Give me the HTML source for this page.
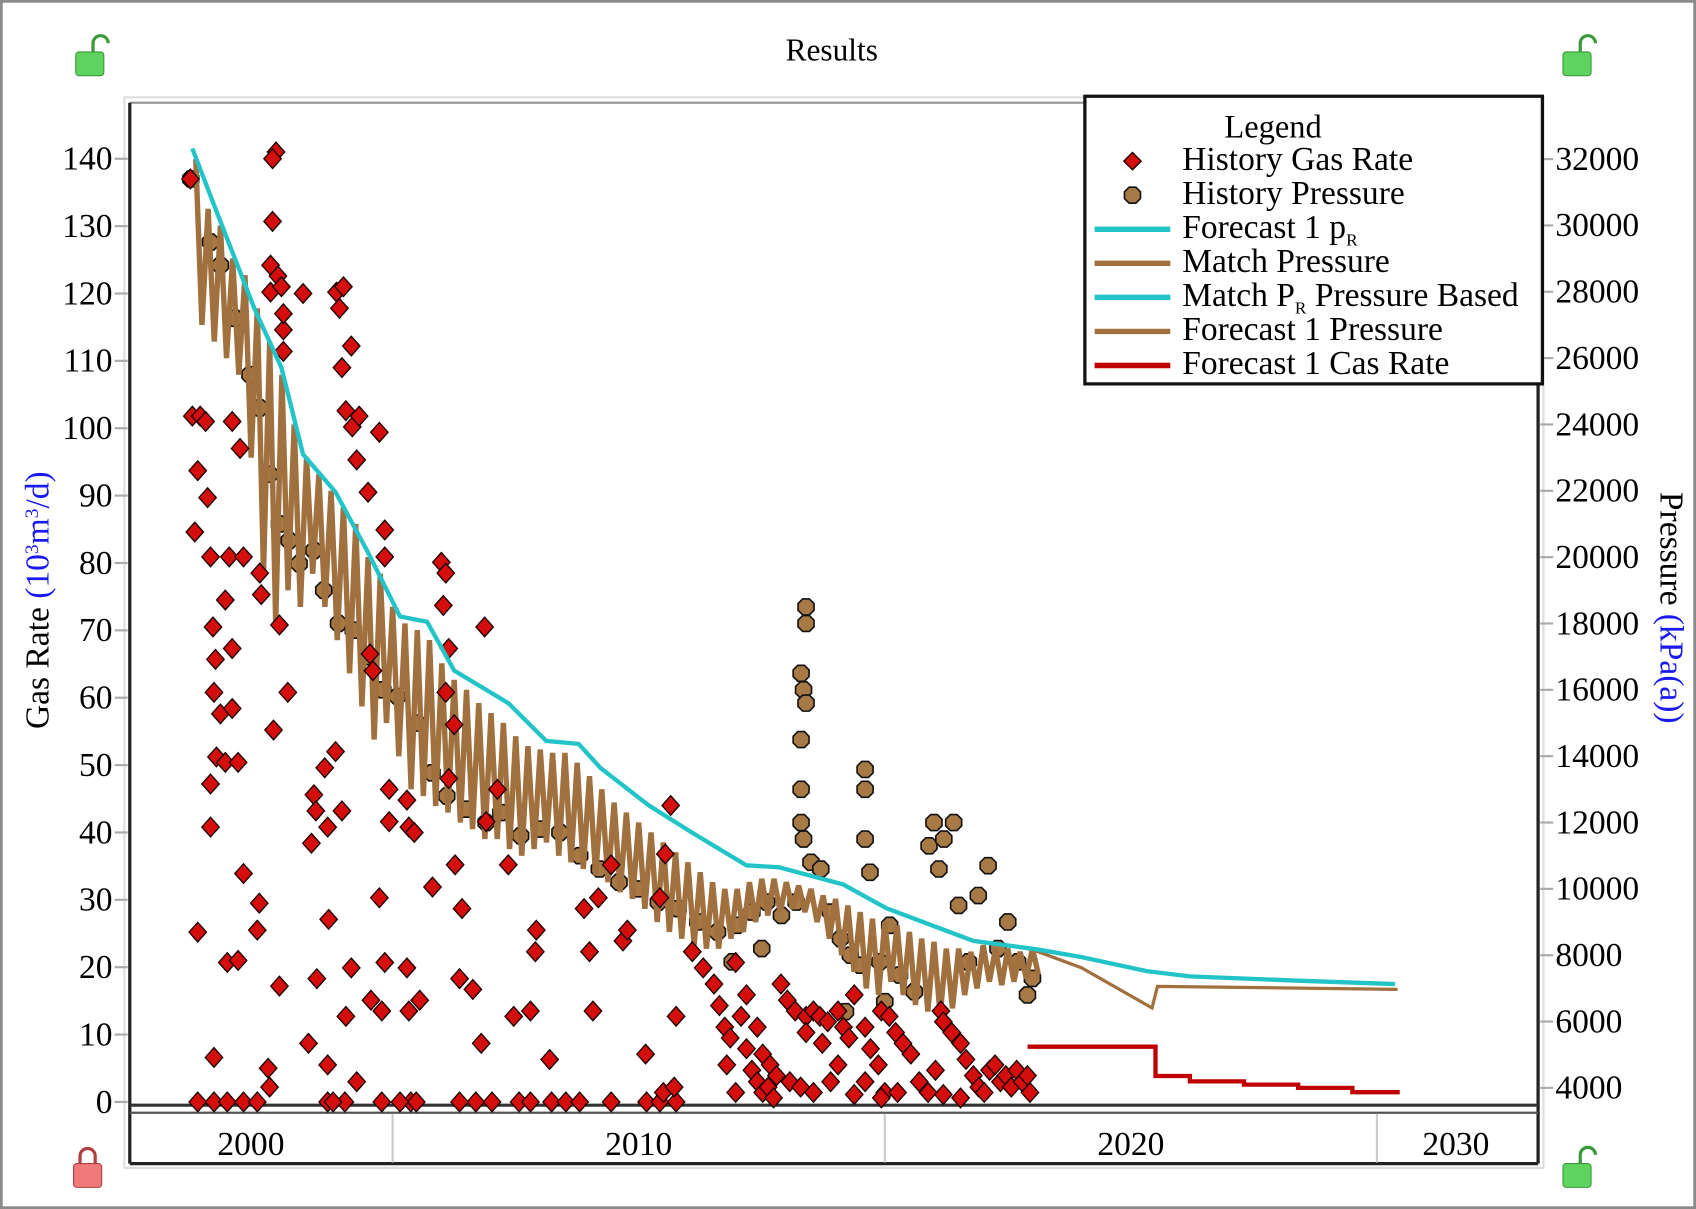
<!DOCTYPE html>
<html><head><meta charset="utf-8"><style>
html,body{margin:0;padding:0;background:#fff;}
svg{display:block;font-family:"Liberation Serif",serif;}
</style></head><body>
<svg id="chart" width="1696" height="1209" viewBox="0 0 1568 1118" preserveAspectRatio="none" xmlns="http://www.w3.org/2000/svg">
<rect x="1" y="1" width="1566" height="1116" fill="#fff" stroke="#8a8a8a" stroke-width="3"/>
<text x="769" y="56" font-size="29" text-anchor="middle">Results</text>
<g><rect x="70" y="48" width="26" height="22" rx="3" fill="#5fd35f" stroke="#3a9a3a"/><path d="M86 48 v-8 a7 7 0 0 1 14 0" fill="none" stroke="#3a9a3a" stroke-width="3"/></g>
<g><rect x="1445" y="48" width="26" height="22" rx="3" fill="#5fd35f" stroke="#3a9a3a"/><path d="M1461 48 v-8 a7 7 0 0 1 14 0" fill="none" stroke="#3a9a3a" stroke-width="3"/></g>
<g><rect x="1445" y="1076" width="26" height="22" rx="3" fill="#5fd35f" stroke="#3a9a3a"/><path d="M1461 1076 v-8 a7 7 0 0 1 14 0" fill="none" stroke="#3a9a3a" stroke-width="3"/></g>
<g><rect x="68" y="1076" width="26" height="22" rx="3" fill="#f07a7a" stroke="#b04040"/><path d="M74 1076 v-7 a7 7 0 0 1 14 0 v7" fill="none" stroke="#b04040" stroke-width="3"/></g>
<rect x="115" y="90" width="1312" height="990" fill="none" stroke="#ddd" stroke-width="2"/>
<line x1="120" y1="95" x2="1422" y2="95" stroke="#999" stroke-width="2"/>
<line x1="120" y1="95" x2="120" y2="1076" stroke="#222" stroke-width="3"/>
<line x1="1422" y1="88" x2="1422" y2="1076" stroke="#222" stroke-width="3"/>
<line x1="120" y1="1022" x2="1422" y2="1022" stroke="#333" stroke-width="3"/>
<line x1="120" y1="1029" x2="1422" y2="1029" stroke="#555" stroke-width="2"/>
<line x1="120" y1="1076" x2="1422" y2="1076" stroke="#222" stroke-width="3"/>
<g id="plot"></g>
<g id="axes"></g>
<text transform="translate(45,555) rotate(-90)" font-size="31" text-anchor="middle">Gas Rate <tspan fill="#1a1aee">(10<tspan font-size="18" dy="-10">3</tspan><tspan dy="10">m</tspan><tspan font-size="18" dy="-10">3</tspan><tspan dy="10">/d)</tspan></tspan></text>
<text transform="translate(1535,562) rotate(90)" font-size="31" text-anchor="middle">Pressure <tspan fill="#1a1aee">(kPa(a))</tspan></text>
<g>
<rect x="1003" y="89" width="423" height="266" fill="#fff" stroke="#111" stroke-width="3"/>
<text x="1177" y="127" font-size="30" text-anchor="middle">Legend</text>
<g id="legend-items"></g>
</g>
</svg>
<script>
const gasYears=[2000.89,2000.93,2001.09,2001.2,2001.04,2001.24,2000.98,2001.3,2001.35,2001.4,2001.37,2001.5,2001.42,2001.6,2001.3,2001.3,2001.68,2001.6,2001.74,2001.74,2001.86,2001.9,2001.74,2001.97,2001.97,2001.64,2001.86,2001.37,2001.04,2001.04,2001.37,2001.64,2001.97,2002.25,2002.3,2002.33,2002.25,2002.29,2002.47,2002.5,2002.58,2002.63,2002.56,2002.56,2002.52,2002.67,2002.52,2002.74,2002.78,2002.78,2002.78,2002.7,2002.87,2002.7,2003.18,2003.29,2003.4,2003.35,2003.44,2003.46,2003.68,2003.68,2003.62,2003.68,2003.7,2003.86,2003.92,2003.97,2004.0,2004.16,2004.05,2004.18,2004.32,2004.27,2004.5,2004.73,2003.84,2003.97,2004.05,2004.16,2004.27,2004.56,2004.73,2004.78,2004.84,2004.54,2004.6,2004.84,2004.84,2004.93,2004.93,2005.29,2005.33,2005.44,2005.29,2005.33,2005.55,2005.37,2005.48,2005.15,2004.78,2004.03,2003.79,2005.81,2005.99,2006.08,2006.03,2006.14,2006.08,2006.25,2006.14,2006.27,2006.41,2006.36,2006.63,2006.87,2006.8,2006.69,2006.36,2007.02,2006.9,2007.13,2007.35,2007.46,2007.8,2007.9,2007.92,2008.19,2007.57,2007.8,2008.23,2008.52,2008.8,2009.07,2008.89,2009.0,2009.18,2009.44,2009.68,2009.77,2010.14,2010.16,2010.43,2010.76,2009.44,2010.43,2010.54,2010.65,2010.76,2010.5,2010.72,2011.09,2011.31,2011.53,2011.64,2011.75,2011.86,2011.97,2012.08,2012.19,2012.3,2012.41,2012.52,2012.63,2012.74,2011.97,2011.79,2012.19,2012.41,2012.52,2012.67,2012.8,2012.89,2013.02,2013.18,2013.4,2013.55,2013.68,2013.84,2014.05,2014.16,2014.27,2013.07,2013.29,2013.55,2013.9,2014.05,2013.4,2013.73,2014.38,2014.6,2014.71,2014.87,2015.0,2014.38,2014.6,2014.93,2015.09,2015.22,2015.37,2015.53,2015.7,2015.88,2016.03,2016.14,2016.19,2016.36,2016.54,2016.65,2016.8,2016.91,2017.02,2017.13,2017.24,2017.35,2017.46,2017.57,2017.68,2017.79,2017.9,2017.95,2016.54,2016.19,2015.26,2014.93];
const gasRates=[137,101.8,101.8,101,93.7,89.7,84.6,80.9,70.5,65.7,60.8,57.6,51.2,50.4,47.2,40.8,80.9,74.5,67.3,58.4,50.4,97,101,80.9,33.9,20.7,21,6.6,25.2,0,0,0,0,0,78.5,75.3,25.5,29.5,5,2.2,55.2,141,140,130.7,124.2,122.6,120.2,121,114.6,117,111.4,70.8,60.8,17.2,120,8.7,45.6,38.4,43.2,18.3,5.5,0,49.6,40.8,27.1,120.2,117.8,109,121,112.2,102.6,100.2,101.8,95.3,90.5,99.4,52,43.2,12.7,19.9,3,15.1,30.3,13.5,20.7,66.5,64,84.9,80.9,46.4,41.6,44.8,40.8,40,19.9,13.5,15.1,0,0,0,0,0,0,31.9,80.1,78.5,73.7,67.3,60.8,56,48,35.2,28.7,18.3,16.7,70.5,8.7,0,0,0,41.6,46.4,35.2,12.7,13.5,22.3,25.5,6.3,0,0,0,0,0,13.5,28.7,22.3,30.3,35.2,23.9,25.5,7.1,0,0,0,0,30.3,36.8,44,12.7,1.4,2.2,22.3,19.9,17.5,14.3,11.1,9.5,20.7,12.7,7.9,4.7,3,1.4,2.2,0.6,1.4,5.5,15.9,11.1,7.1,5.5,3.9,17.5,15.1,13.5,12.7,13.5,12.7,11.9,13.5,11.1,9.5,3,2.2,1.4,3,5.5,10.3,8.7,15.9,11.1,7.9,5.5,1.4,1.1,3,13.5,12.7,10.3,8.7,7.1,3,1.4,4.7,13.5,11.9,10.3,8.7,6.3,3.9,2.2,1.4,4.7,5.5,3,3.9,2.2,4.7,3,3.9,1.4,0.6,1.1,1.4,0.6];
const presYears=[2000.9,2001.3,2001.5,2001.8,2002.1,2002.3,2002.5,2002.7,2002.9,2003.1,2003.4,2003.6,2003.9,2004.2,2004.5,2004.8,2005.1,2005.5,2005.8,2006.1,2006.5,2006.9,2007.2,2007.6,2008.0,2008.4,2008.8,2009.2,2009.6,2010.0,2010.4,2010.8,2011.2,2011.6,2012.0,2012.3,2012.6,2012.9,2013.2,2013.3,2013.3,2013.35,2013.3,2013.3,2013.35,2013.4,2013.4,2013.4,2013.5,2013.7,2013.9,2014.1,2014.3,2014.5,2014.6,2014.6,2014.6,2014.7,2014.9,2015.1,2015.3,2015.6,2015.9,2016.0,2016.1,2016.2,2016.4,2016.5,2016.7,2016.9,2017.1,2017.3,2017.5,2017.7,2017.9,2018.0,2015.0,2014.2,2012.5,2011.9];
const presValues=[31400,29500,28800,27200,25500,24500,22500,21000,20500,19800,20200,19000,18000,17800,17000,16000,15800,15000,13500,12800,12400,12000,12300,11600,11800,11700,11000,10600,10200,10000,9600,9400,9000,8700,8900,9300,9600,9200,9600,13000,14500,16000,16500,12000,11500,18000,18500,15600,10800,10600,9300,8500,8000,7700,13600,13000,11500,10500,7800,8900,7400,6900,11300,12000,10600,11500,12000,9500,7800,9800,10700,8200,9000,7800,6800,7300,6600,6300,8200,7800];
const matchYears=[2001.0,2001.25,2001.5,2001.75,2002.0,2002.25,2002.5,2002.75,2003.0,2003.25,2003.5,2003.75,2004.0,2004.25,2004.5,2004.75,2005.0,2005.25,2005.5,2005.75,2006.0,2006.25,2006.5,2006.75,2007.0,2007.25,2007.5,2007.75,2008.0,2008.25,2008.5,2008.75,2009.0,2009.25,2009.5,2009.75,2010.0,2010.25,2010.5,2010.75,2011.0,2011.25,2011.5,2011.75,2012.0,2012.25,2012.5,2012.75,2013.0,2013.25,2013.5,2013.75,2014.0,2014.25,2014.5,2014.75,2015.0,2015.25,2015.5,2015.75,2016.0,2016.25,2016.5,2016.75,2017.0,2017.25,2017.5,2017.75,2018.0];
const matchTop=[32000,30500,30000,29000,28500,27500,26500,25500,24000,23000,22500,22000,21500,21000,20000,19500,18500,18000,17800,17500,16800,16300,16000,15600,15300,15000,14600,14300,14200,14100,14100,13800,13400,13000,12600,12300,12000,11700,11400,11100,10800,10500,10200,10000,10000,10200,10300,10300,10200,10100,10000,9800,9700,9500,9300,9100,9000,8900,8700,8500,8400,8200,8200,8100,8300,8200,8200,8100,8200];
const matchBottom=[27000,26500,26000,25500,23000,19500,18000,19000,18500,19500,18500,17500,16500,15500,14500,15000,14000,13000,12800,12500,12300,12000,11800,11500,11500,11200,11000,11200,11400,11000,10800,10600,10400,10200,9900,9700,9400,9000,8700,8500,8300,8200,8200,8500,8700,9000,9200,9300,9400,9300,9000,8500,8000,7500,7000,6800,7200,6800,6500,6300,6200,6400,6800,7000,7200,7100,7200,7300,7400];
const fcPresYears=[2018.0,2019.0,2020.43,2020.54,2025.42];
const fcPres=[8170,7620,6410,7060,6970];
const prYears=[2000.93,2001.42,2002.19,2002.74,2003.18,2003.84,2004.49,2005.15,2005.7,2006.25,2007.35,2008.12,2008.78,2009.22,2010.21,2011.09,2012.19,2012.85,2014.16,2015.04,2015.92,2016.8,2018.12,2019.0,2020.32,2021.2,2023.4,2025.37];
const prPres=[32320,30430,27500,25710,23100,21960,20170,18210,18050,16580,15600,14460,14370,13650,12510,11690,10710,10650,10130,9410,8920,8430,8170,7940,7520,7360,7230,7130];
const fcGasYears=[2017.9,2020.43,2020.5,2021.2,2022.3,2023.4,2024.5,2025.42];
const fcGasRates=[8.2,8.2,3.85,3.05,2.57,2.09,1.44,1.12];
const leftTicks=[0,10,20,30,40,50,60,70,80,90,100,110,120,130,140];
const rightTicks=[4000,6000,8000,10000,12000,14000,16000,18000,20000,22000,24000,26000,28000,30000,32000];
const decadeLabels=["2000","2010","2020","2030"];
const decadeCenters=[2000,2010,2020,2030];
const decadeDividers=[2005,2015,2025];

const NS="http://www.w3.org/2000/svg";
const xs=y=>363+(y-2005)*45.5;
const yl=r=>1019-r*6.23;
const yr=p=>1006-(p-4000)/32.6;
const plot=document.getElementById('plot'), axes=document.getElementById('axes');
function mk(tag,attrs,parent){const e=document.createElementNS(NS,tag);for(const k in attrs)e.setAttribute(k,attrs[k]);parent.appendChild(e);return e;}

leftTicks.forEach(v=>{
  const g=mk('g',{},axes);
  
  
  mk('line',{x1:106,x2:118,y1:yl(v),y2:yl(v),stroke:'#aaa','stroke-width':2},g);
  const t=mk('text',{x:104,y:yl(v)+10,'font-size':31,'text-anchor':'end'},g);t.textContent=v;
});
rightTicks.forEach(v=>{
  const g=mk('g',{},axes);
  
  
  mk('line',{x1:1424,x2:1436,y1:yr(v),y2:yr(v),stroke:'#aaa','stroke-width':2},g);
  const t=mk('text',{x:1438,y:yr(v)+10,'font-size':31},g);t.textContent=v;
});
decadeDividers.forEach(d=>{
  const l=mk('line',{x1:xs(d),x2:xs(d),y1:1030,y2:1075,stroke:'#ccc','stroke-width':2},axes);
  
  
});
decadeLabels.forEach((s,i)=>{
  let cx=xs(decadeCenters[i]); if(i===0)cx=232; if(i===3)cx=1346;
  const t=mk('text',{x:cx,y:1068,'font-size':31,'text-anchor':'middle'},axes);
  
  
  t.textContent=s;
});

function pts(xsArr,ysArr,fy){return xsArr.map((y,i)=>xs(y).toFixed(1)+','+fy(ysArr[i]).toFixed(1)).join(' ');}
function oct(cx,cy,r){let a=[];for(let i=0;i<8;i++){const t=Math.PI/8+i*Math.PI/4;a.push((cx+r*Math.cos(t)).toFixed(1)+','+(cy+r*Math.sin(t)).toFixed(1));}return a.join(' ');}

const gp=mk('g',{},plot);


presYears.forEach((y,i)=>{
  const p=mk('polygon',{points:oct(xs(y),yr(presValues[i]),8),fill:'#a77a45',stroke:'#111','stroke-width':1.5},gp);
  
  
});
let zig=[];
matchYears.forEach((y,i)=>{
  zig.push(xs(y).toFixed(1)+','+yr(matchTop[i]).toFixed(1));
  zig.push(xs(y+0.125).toFixed(1)+','+yr(matchBottom[i]).toFixed(1));
});
const mp=mk('polyline',{points:zig.join(' '),fill:'none',stroke:'#a0703e','stroke-width':5,'stroke-linejoin':'miter'},plot);


const fp=mk('polyline',{points:pts(fcPresYears,fcPres,yr),fill:'none',stroke:'#a0703e','stroke-width':3},plot);


const gg=mk('g',{},plot);


gasYears.forEach((y,i)=>{
  const cx=xs(y),cy=yl(gasRates[i]);
  const d=mk('polygon',{points:`${cx},${cy-9} ${cx+8},${cy} ${cx},${cy+9} ${cx-8},${cy}`,fill:'#d40d0d',stroke:'#220000','stroke-width':1.3},gg);
  
  
});
const cy=mk('polyline',{points:pts(prYears,prPres,yr),fill:'none',stroke:'#22c4c8','stroke-width':4},plot);


const rg=mk('polyline',{points:fcGasYears.map((y,i)=>{const a=xs(y).toFixed(1)+','+yl(fcGasRates[i]).toFixed(1);return i?xs(y).toFixed(1)+','+yl(fcGasRates[i-1]).toFixed(1)+' '+a:a;}).join(' '),fill:'none',stroke:'#c00000','stroke-width':4},plot);



const li=document.getElementById('legend-items');
const legendLabels=["History Gas Rate","History Pressure","Forecast 1 p_R","Match Pressure","Match P_R Pressure Based","Forecast 1 Pressure","Forecast 1 Cas Rate"];
const legendKinds=["diamond","oct","line","line","line","line","line"];
const legendColors=["#d40d0d","#a77a45","#22c4c8","#a0703e","#22c4c8","#a0703e","#c00000"];
legendLabels.forEach((s,i)=>{
  const y=157+i*31.5;
  const g=mk('g',{},li);
  
  
  if(legendKinds[i]==='diamond') mk('polygon',{points:`1047,${y-16} 1055,${y-8} 1047,${y} 1039,${y-8}`,fill:legendColors[i],stroke:'#200','stroke-width':1.3},g);
  else if(legendKinds[i]==='oct') mk('polygon',{points:oct(1047,y-8,8),fill:legendColors[i],stroke:'#111','stroke-width':1.5},g);
  else mk('line',{x1:1012,x2:1082,y1:y-8,y2:y-8,stroke:legendColors[i],'stroke-width':5},g);
  const t=mk('text',{x:1093,y:y,'font-size':31,'textLength':0},g);
  t.removeAttribute('textLength');
  const parts=s.split('_');
  t.appendChild(document.createTextNode(parts[0]));
  if(parts.length>1){const sub=document.createElementNS(NS,'tspan');sub.setAttribute('font-size','16');sub.setAttribute('dy','7');sub.textContent=parts[1].slice(0,1);t.appendChild(sub);
    const rest=document.createElementNS(NS,'tspan');rest.setAttribute('dy','-7');rest.textContent=parts[1].slice(1);t.appendChild(rest);}
});
</script>
</body></html>
